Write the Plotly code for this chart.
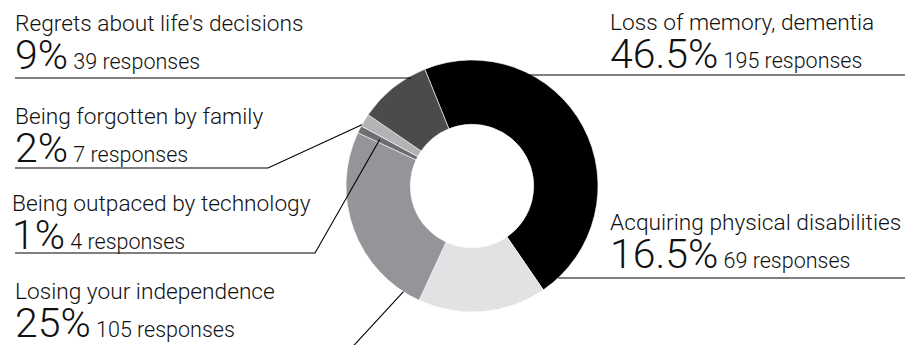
import math
import plotly.graph_objects as go

# ---- data ----
labels = ["Loss of memory, dementia", "Acquiring physical disabilities",
          "Losing your independence", "Being outpaced by technology",
          "Being forgotten by family", "Regrets about life's decisions"]
percents = [46.5, 16.5, 25, 1, 2, 9]
responses = [195, 69, 105, 4, 7, 39]
colors = ["#000000", "#e1e2e3", "#939598", "#6d6e71", "#b2b3b5", "#4b4b4d"]

W, H = 905, 345
CX, CY, R = 472, 186, 126
ROT = -22
FONT = "Roboto"

fig = go.Figure(go.Pie(
    labels=labels, values=responses, sort=False, direction="clockwise",
    rotation=ROT, hole=0.49, textinfo="none", hoverinfo="label+percent",
    marker=dict(colors=colors, line=dict(color="white", width=0.6)),
    domain=dict(x=[(CX - R) / W, (CX + R) / W], y=[(H - CY - R) / H, (H - CY + R) / H]),
))

# slice angles computed from data
total = sum(responses)
starts, ends = [], []
a = ROT
for v in responses:
    starts.append(a)
    a += v / total * 360
    ends.append(a)

def px(x, y):
    return x / W, 1 - y / H

def polar(idx, frac, rf):
    ang = math.radians(starts[idx] + frac * (ends[idx] - starts[idx]))
    return CX + rf * R * math.sin(ang), CY - rf * R * math.cos(ang)

def circle_x(y, side):
    dy = y - CY
    return CX + side * math.sqrt(max(R * R - dy * dy, 0))

# label layout: (index, text x, label baseline)
layout_spec = [
    (5, 14, 30),
    (4, 14, 123),
    (3, 11, 210),
    (2, 14, 298),
    (0, 609, 29),
    (1, 609, 229),
]

LBL, BIG, SMALL, BASE = 22.7, 41, 21.5, 29.2
ann = []
for idx, x, lb in layout_spec:
    pct_txt = f"{percents[idx]:g}%"
    txt = (f"<span style='font-size:{LBL}px'>{labels[idx]}</span><br>"
           f"<span style='font-size:{BIG}px'>{pct_txt}</span>"
           f"<span style='font-size:{SMALL}px'> {responses[idx]} responses</span>")
    ann.append(dict(x=x / W, y=1 - (lb - 21) / H, xref="paper", yref="paper",
                    xanchor="left", yanchor="top", align="left", showarrow=False,
                    borderpad=0, text=txt,
                    font=dict(family=FONT, size=BASE, color="#111", weight=300)))

shapes = []
def seg(points):
    p = [px(*pt) for pt in points]
    d = "M " + " L ".join(f"{a:.5f},{b:.5f}" for a, b in p)
    shapes.append(dict(type="path", path=d, xref="paper", yref="paper",
                       line=dict(color="#000", width=1.1)))

# regrets: horizontal line to circle edge
seg([(15, 78), (circle_x(78, -1) + 4, 78)])
# forgotten
seg([(15, 168), (268, 168), polar(4, 0.1, 1.0)])
# outpaced
seg([(15, 253), (315, 253), polar(3, 0.5, 0.82)])
# independence
seg([(345, 355), polar(2, 0.09, 1.0)])
# memory
seg([(circle_x(75, 1) - 3, 75), (905, 75)])
# acquiring
seg([(circle_x(278, 1), 278), (905, 278)])

fig.update_layout(width=W, height=H, margin=dict(l=0, r=0, t=0, b=0),
                  paper_bgcolor="white", plot_bgcolor="white", showlegend=False,
                  annotations=ann, shapes=shapes)
fig.write_html("out.html")
